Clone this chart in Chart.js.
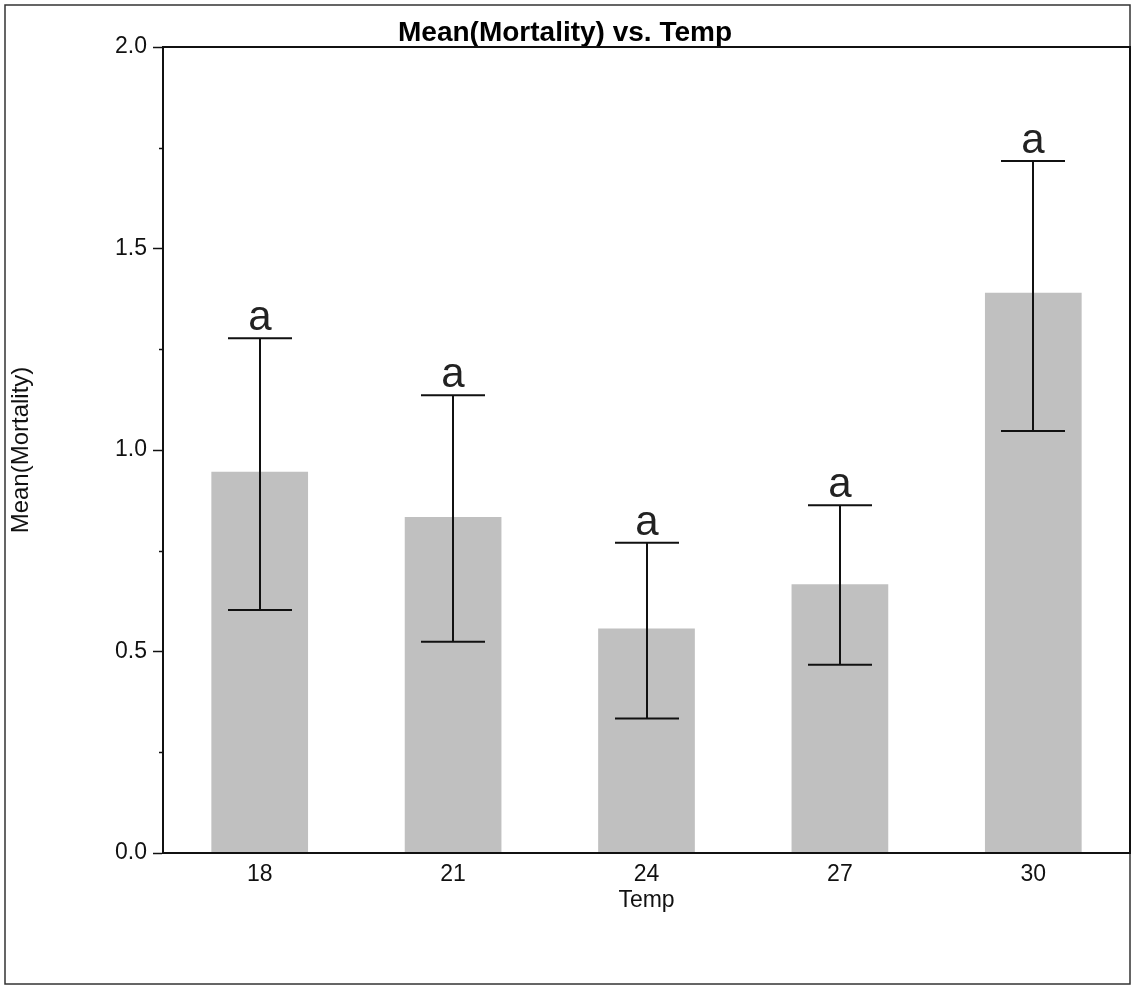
<!DOCTYPE html>
<html>
<head>
<meta charset="utf-8">
<title>Mean(Mortality) vs. Temp</title>
<script src="https://cdn.jsdelivr.net/npm/chart.js@4/dist/chart.umd.min.js"></script>
<style>
    html, body { margin: 0; padding: 0; background: #fff; }
    #wrap { width: 1133px; height: 988px; }
</style>
</head>
<body>
<div id="wrap"><canvas id="mortalityChart"></canvas></div>
<script>
(function() {
    'use strict';

    // data
    var temps = ['18', '21', '24', '27', '30'];
    var meanMortality = [0.946, 0.834, 0.557, 0.667, 1.390];
    var upperMortality = [1.277, 1.136, 0.770, 0.863, 1.717];
    var lowerMortality = [0.603, 0.524, 0.334, 0.467, 1.047];
    var groupLetters = ['a', 'a', 'a', 'a', 'a'];
    var yLabelTicks = [0.0, 0.5, 1.0, 1.5, 2.0];

    var FONT = '"Liberation Sans", Arial, sans-serif';
    Chart.defaults.font.family = FONT;
    Chart.defaults.color = '#111';

    function isLabelTick(v) {
        return yLabelTicks.some(function(t) { return Math.abs(t - v) < 1e-6; });
    }

    // outer frame + box round the plot + short minor ticks
    var framePlugin = {
        id: 'frame',
        beforeDraw: function(chart) {
            var ctx = chart.ctx;
            ctx.save();
            ctx.fillStyle = '#fff';
            ctx.fillRect(0, 0, chart.width, chart.height);
            ctx.strokeStyle = '#333';
            ctx.lineWidth = 1.5;
            ctx.strokeRect(5, 5, 1125, 979);
            ctx.restore();
        },
        afterDraw: function(chart) {
            var ctx = chart.ctx;
            var area = chart.chartArea;
            var y = chart.scales.y;
            ctx.save();
            ctx.strokeStyle = '#111';
            ctx.lineWidth = 2;
            ctx.strokeRect(area.left, area.top, area.right - area.left, area.bottom - area.top);
            ctx.lineWidth = 1.5;
            y.ticks.forEach(function(t) {
                if (isLabelTick(t.value)) return;
                var py = Math.round(y.getPixelForValue(t.value)) + 0.5;
                ctx.beginPath();
                ctx.moveTo(area.left - 4, py);
                ctx.lineTo(area.left, py);
                ctx.stroke();
            });
            ctx.restore();
        }
    };

    // error bars with group letters above them
    var errorBarPlugin = {
        id: 'errorBars',
        afterDatasetsDraw: function(chart) {
            var ctx = chart.ctx;
            var x = chart.scales.x;
            var y = chart.scales.y;
            var capHalf = 32;
            ctx.save();
            ctx.strokeStyle = '#111';
            ctx.lineWidth = 2;
            ctx.fillStyle = '#222';
            ctx.font = '42px ' + FONT;
            ctx.textAlign = 'center';
            ctx.textBaseline = 'alphabetic';
            temps.forEach(function(t, i) {
                var px = Math.round(x.getPixelForValue(i));
                var top = y.getPixelForValue(upperMortality[i]);
                var bot = y.getPixelForValue(lowerMortality[i]);
                ctx.beginPath();
                ctx.moveTo(px, top);
                ctx.lineTo(px, bot);
                ctx.moveTo(px - capHalf, top);
                ctx.lineTo(px + capHalf, top);
                ctx.moveTo(px - capHalf, bot);
                ctx.lineTo(px + capHalf, bot);
                ctx.stroke();
                ctx.fillText(groupLetters[i], px, top - 8);
            });
            ctx.restore();
        }
    };

    var CHART = document.getElementById('mortalityChart');

    var mortalityChart = new Chart(CHART, {
        type: 'bar',
        data: {
            labels: temps,
            datasets: [{
                label: 'Mean(Mortality)',
                data: meanMortality,
                backgroundColor: 'rgb(192,192,192)',
                borderWidth: 0,
                barPercentage: 0.5,
                categoryPercentage: 1.0
            }]
        },
        plugins: [framePlugin, errorBarPlugin],
        options: {
            responsive: true,
            maintainAspectRatio: false,
            animation: false,
            layout: {
                padding: { left: 0, top: 2, right: 3, bottom: 0 }
            },
            plugins: {
                legend: { display: false },
                tooltip: { enabled: false },
                title: {
                    display: true,
                    text: 'Mean(Mortality) vs. Temp',
                    color: '#000',
                    font: { size: 28, weight: 'bold', lineHeight: 1 },
                    padding: { top: 17, bottom: 0 }
                }
            },
            scales: {
                x: {
                    grid: { display: false, drawTicks: false },
                    border: { display: true, color: '#111', width: 2 },
                    ticks: {
                        padding: 8,
                        font: { size: 23 }
                    },
                    title: {
                        display: true,
                        text: 'Temp',
                        font: { size: 23 },
                        padding: { top: 0, bottom: 74 }
                    },
                    afterFit: function(scale) {
                        scale.height = 135;
                    }
                },
                y: {
                    min: 0,
                    max: 2,
                    grid: {
                        drawOnChartArea: false,
                        drawTicks: true,
                        tickLength: 10,
                        tickWidth: 1.5,
                        tickColor: function(c) {
                            return isLabelTick(c.tick.value) ? '#111' : 'rgba(0,0,0,0)';
                        }
                    },
                    border: { display: true, color: '#111', width: 2 },
                    ticks: {
                        stepSize: 0.25,
                        padding: 6,
                        autoSkip: false,
                        font: { size: 23 },
                        callback: function(v) {
                            return isLabelTick(v) ? v.toFixed(1) : '';
                        }
                    },
                    title: {
                        display: true,
                        text: 'Mean(Mortality)',
                        font: { size: 24 },
                        padding: { top: 7, bottom: 0 }
                    },
                    afterFit: function(scale) {
                        scale.width = 163;
                    }
                }
            }
        }
    });
}());
</script>
</body>
</html>
